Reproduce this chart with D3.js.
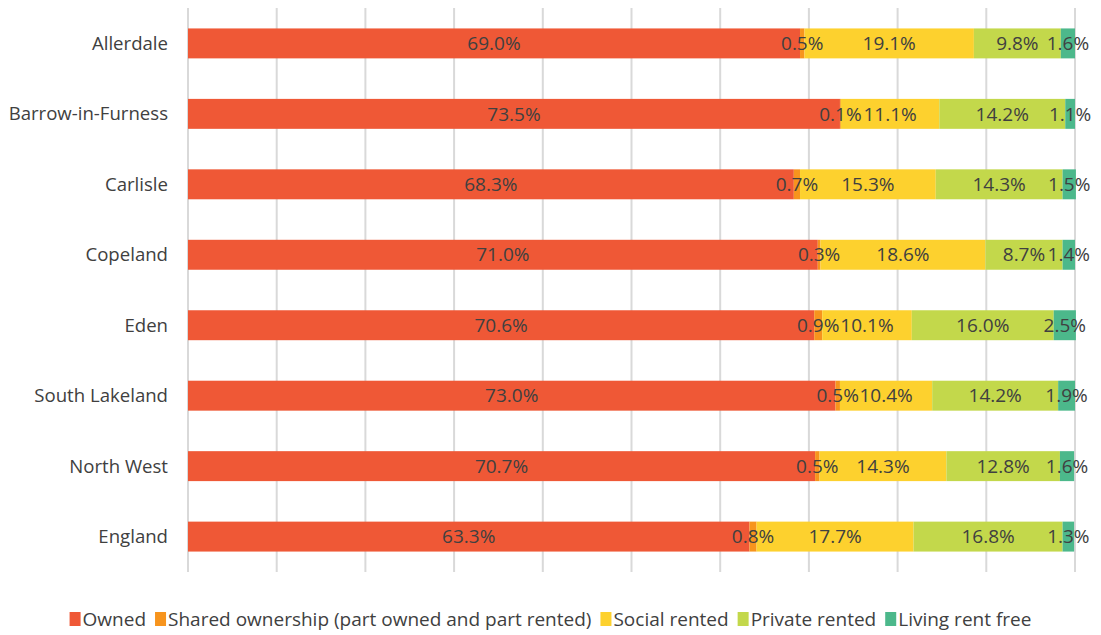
<!DOCTYPE html>
<html>
<head>
<meta charset="utf-8">
<script src="https://cdn.jsdelivr.net/npm/d3@7"></script>
<style>
  body { margin: 0; background: #fff; }
  text { font-family: "Open Sans", sans-serif; fill: #404040; }
</style>
</head>
<body>
<script>
// tenure split by area, percent of households
var areas = ["Allerdale", "Barrow-in-Furness", "Carlisle", "Copeland", "Eden", "South Lakeland", "North West", "England"];
var tenures = ["Owned", "Shared ownership (part owned and part rented)", "Social rented", "Private rented", "Living rent free"];
var owned = [69.0, 73.5, 68.3, 71.0, 70.6, 73.0, 70.7, 63.3];
var shared = [0.5, 0.1, 0.7, 0.3, 0.9, 0.5, 0.5, 0.8];
var social = [19.1, 11.1, 15.3, 18.6, 10.1, 10.4, 14.3, 17.7];
var privateRented = [9.8, 14.2, 14.3, 8.7, 16.0, 14.2, 12.8, 16.8];
var rentFree = [1.6, 1.1, 1.5, 1.4, 2.5, 1.9, 1.6, 1.3];
var colors = ["#EF5836", "#F7941D", "#FDD12E", "#C3D84B", "#4CB88B"];

function draw() {
    var w = 1101, h = 635;
    var left = 188, right = 1075, top = 8, bottom = 572;
    var svg = d3.select("body").append("svg")
        .attr("width", w)
        .attr("height", h);

    // build rows for the stack
    var cols = [owned, shared, social, privateRented, rentFree];
    var rows = areas.map(function(a, i) {
        var r = { area: a };
        tenures.forEach(function(t, j) { r[t] = cols[j][i]; });
        return r;
    });
    var series = d3.stack().keys(tenures)(rows);

    var x = d3.scaleLinear().domain([0, 100]).range([left, right]);
    var y = d3.scaleBand().domain(areas).range([top, bottom]).paddingInner(0.575).paddingOuter(0.29);

    // gridlines
    svg.append("g").selectAll("line")
        .data(d3.range(0, 101, 10))
        .enter().append("line")
        .attr("x1", function(d) { return x(d); })
        .attr("x2", function(d) { return x(d); })
        .attr("y1", top)
        .attr("y2", bottom)
        .attr("stroke", "#d9d9d9")
        .attr("stroke-width", 2);

    var groups = svg.selectAll("g.series")
        .data(series)
        .enter().append("g")
        .attr("class", "series")
        .attr("fill", function(d, i) { return colors[i]; });

    groups.selectAll("rect")
        .data(function(d) { return d; })
        .enter().append("rect")
        .attr("x", function(d) { return x(d[0]); })
        .attr("width", function(d) { return x(d[1]) - x(d[0]); })
        .attr("y", function(d) { return y(d.data.area); })
        .attr("height", y.bandwidth());

    // value labels on top of all bars
    var labels = svg.selectAll("g.labels")
        .data(series)
        .enter().append("g")
        .attr("class", "labels");
    labels.selectAll("text")
        .data(function(d) { return d; })
        .enter().append("text")
        .attr("x", function(d) { return (x(d[0]) + x(d[1])) / 2; })
        .attr("y", function(d) { return y(d.data.area) + y.bandwidth() / 2; })
        .attr("dy", "0.35em")
        .attr("text-anchor", "middle")
        .style("font-size", "19px")
        .text(function(d) { return (d[1] - d[0]).toFixed(1) + "%"; });

    // category labels
    svg.append("g").selectAll("text")
        .data(areas)
        .enter().append("text")
        .attr("x", left - 20)
        .attr("y", function(d) { return y(d) + y.bandwidth() / 2; })
        .attr("dy", "0.35em")
        .attr("text-anchor", "end")
        .style("font-size", "18.6px")
        .text(function(d) { return d; });

    // legend
    var legend = svg.append("g").attr("transform", "translate(0,619)");
    var offset = 0;
    var items = [];
    tenures.forEach(function(t, i) {
        var g = legend.append("g");
        g.append("rect").attr("x", 0).attr("y", -7).attr("width", 11).attr("height", 14).attr("fill", colors[i]);
        var txt = g.append("text").attr("x", 13).attr("dy", "0.35em").style("font-size", "19px").text(t);
        var wd = 13 + txt.node().getComputedTextLength();
        items.push({ g: g, off: offset });
        offset += wd + 9;
    });
    var start = (w - (offset - 9)) / 2;
    items.forEach(function(it) {
        it.g.attr("transform", "translate(" + (start + it.off) + ",0)");
    });
}
window.onload = draw;
</script>
</body>
</html>
